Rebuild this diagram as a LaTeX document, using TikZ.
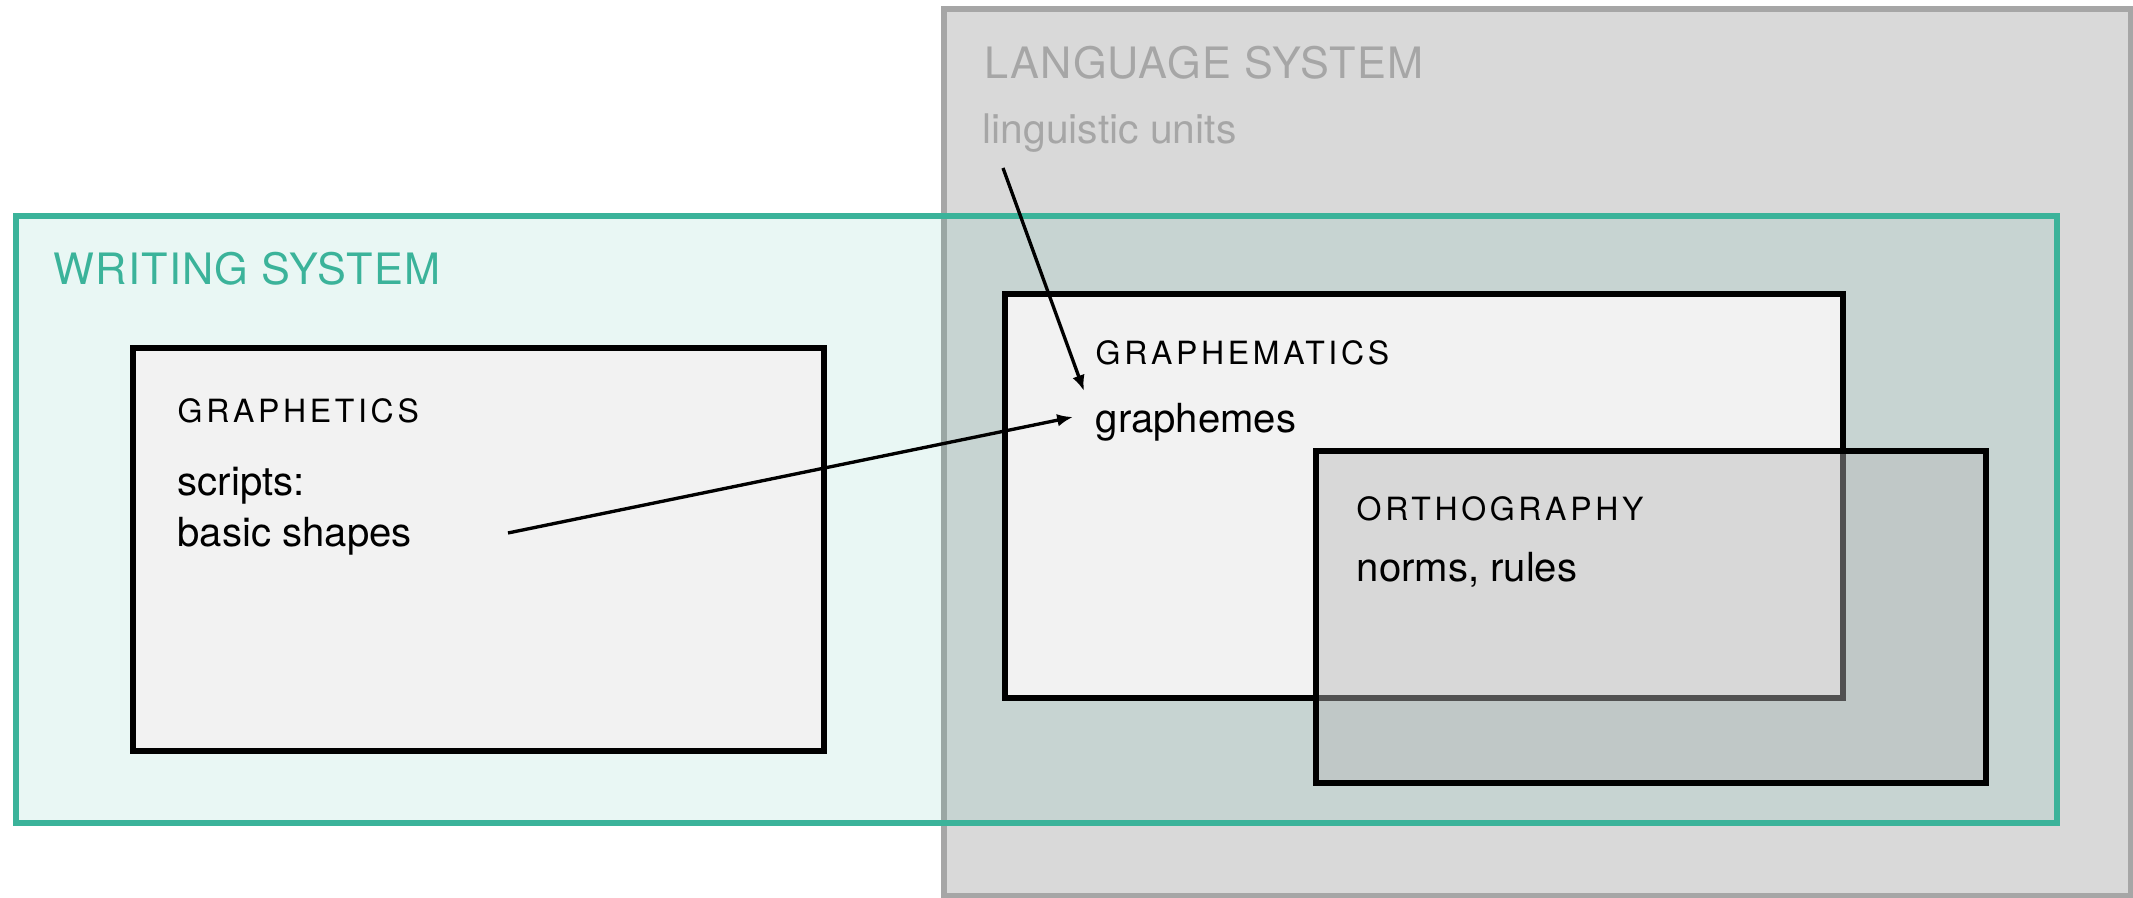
\documentclass[tikz,border=0pt]{standalone}
\usepackage{fontspec}
\setmainfont{TeX Gyre Heros}
\newfontfamily\capsfont[LetterSpace=11.5]{TeX Gyre Heros}
\newfontfamily\titlefont[LetterSpace=2.8]{TeX Gyre Heros}
\usetikzlibrary{arrows.meta}

\definecolor{wsgreen}{HTML}{3BB39A}
\definecolor{lsgray}{HTML}{A6A6A6}
\definecolor{lsfill}{HTML}{D9D9D9}
\definecolor{boxfill}{HTML}{F2F2F2}
\definecolor{orthofill}{HTML}{B9B9B9}

\begin{document}
\begin{tikzpicture}[x=0.01cm,y=-0.01cm,
  systemtitle/.style={anchor=base west,inner sep=0,font=\titlefont\fontsize{12.3}{14}\selectfont},
  fieldtitle/.style={anchor=base west,inner sep=0,font=\capsfont\fontsize{9.1}{11}\selectfont},
  fieldtext/.style={anchor=base west,inner sep=0,font=\fontsize{11.4}{14}\selectfont},
  field/.style={draw=black,line width=1.5pt,fill=boxfill},
  link/.style={line width=0.95pt,-{Latex[length=4.5pt,width=3.6pt]}}]
\useasboundingbox (0,0) rectangle (2133,898);

% language system
\draw[draw=lsgray,fill=lsfill,line width=1.7pt] (944,9) rectangle (2131,896);
\node[systemtitle,text=lsgray] (langsys) at (984,79) {LANGUAGE SYSTEM};
\node[fieldtext,text=lsgray,font=\fontsize{11.6}{14}\selectfont] (units) at (982,144) {linguistic units};

% writing system
\draw[draw=wsgreen,fill=wsgreen,fill opacity=0.11,line width=1.7pt] (16,216) rectangle (2057,823);
\node[systemtitle,text=wsgreen] (writsys) at (53,285) {WRITING SYSTEM};

%-------------------------------------
\draw[field] (133,348) rectangle (824,751);
\node[fieldtitle] (graphetics) at (177,423) {GRAPHETICS};
\node[fieldtext] (scripts) at (177,496) {scripts:};
\node[fieldtext] (shapes) at (177,547) {basic shapes};

%-------------------------------------
\draw[field] (1005,294) rectangle (1843,698);
\node[fieldtitle] (graphematics) at (1095,365) {GRAPHEMATICS};
\node[fieldtext] (graphemes) at (1095,433) {graphemes};

%-------------------------------------
\draw[draw=black,line width=1.5pt,fill=orthofill,fill opacity=0.44] (1316,451) rectangle (1986,783);
\node[fieldtitle] (orthography) at (1356,521) {ORTHOGRAPHY};
\node[fieldtext] (norms) at (1356,582) {norms, rules};

% arrows
\coordinate (units end) at (1003,168);
\coordinate (graphemes top) at (1084,391);
\coordinate (shapes end) at (508,533);
\coordinate (graphemes left) at (1073,417);
\draw[link] (units end) -- (graphemes top);
\draw[link] (shapes end) -- (graphemes left);

\end{tikzpicture}
\end{document}
